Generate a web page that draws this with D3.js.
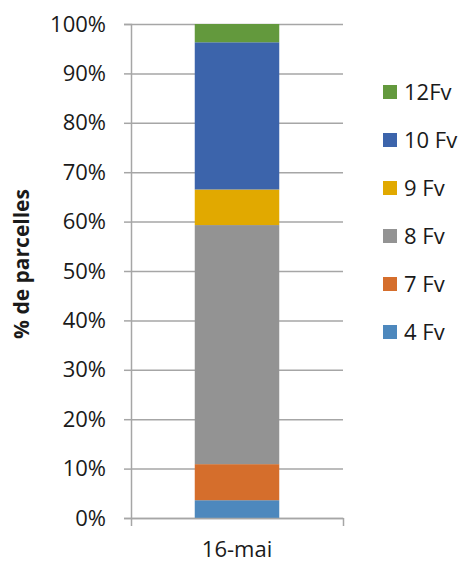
<!DOCTYPE html>
<html>
<head>
<meta charset="utf-8">
<script src="https://cdn.jsdelivr.net/npm/d3@7"></script>
<style>
  body { margin: 0; background: #fff; }
  svg text { font-family: "Open Sans", "Liberation Sans", sans-serif; fill: #1a1a1a; }
</style>
</head>
<body>
<svg id="chart" width="464" height="563"></svg>
<script>
// values (% of parcels per stage, one date)
const categories = ['16-mai'];
const seriesNames = ['4 Fv', '7 Fv', '8 Fv', '9 Fv', '10 Fv', '12Fv'];
const seriesValues = [3.6, 7.3, 48.4, 7.2, 29.8, 3.7];
const seriesColors = ['#4d88bd', '#d56e2c', '#939393', '#e1a900', '#3c64ab', '#63993d'];
const yTicks = [0, 10, 20, 30, 40, 50, 60, 70, 80, 90, 100];

const MARGIN_LEFT = 131;
const MARGIN_TOP = 24;
const PLOT_W = 212;
const PLOT_H = 494;
const GRID_COLOR = '#a6a6a6';
const FONT_PX = 22;

const svg = d3.select('#chart');
const g = svg.append('g').attr('transform', `translate(${MARGIN_LEFT},${MARGIN_TOP})`);

const y = d3.scaleLinear().domain([0, 100]).range([PLOT_H, 0]);
const x = d3.scaleBand().domain(categories).range([0, PLOT_W]).padding(0.43);

// gridlines
g.append('g')
  .call(d3.axisLeft(y).tickValues(yTicks).tickSize(-PLOT_W).tickFormat(''))
  .call(a => a.select('.domain').remove())
  .selectAll('line')
    .attr('stroke', GRID_COLOR)
    .attr('stroke-width', 1.5);

// stacked bar
const stackRows = categories.map(c => {
  const row = { cat: c };
  seriesNames.forEach((s, i) => { row[s] = seriesValues[i]; });
  return row;
});
const stacked = d3.stack().keys(seriesNames)(stackRows);

g.selectAll('g.layer')
  .data(stacked)
  .join('g')
    .attr('class', 'layer')
    .attr('fill', (d, i) => seriesColors[i])
  .selectAll('rect')
  .data(d => d)
  .join('rect')
    .attr('x', d => x(d.data.cat))
    .attr('width', x.bandwidth())
    .attr('y', d => y(d[1]))
    .attr('height', d => y(d[0]) - y(d[1]));

// left axis
const yAxis = g.append('g')
  .call(d3.axisLeft(y).tickValues(yTicks).tickSize(7).tickPadding(18).tickFormat(d => d + '%'));
yAxis.select('.domain').attr('stroke', GRID_COLOR).attr('stroke-width', 1.5);
yAxis.selectAll('line').attr('stroke', GRID_COLOR).attr('stroke-width', 1.5);
yAxis.selectAll('text').style('font-size', FONT_PX + 'px').attr('fill', '#1a1a1a');

// bottom axis: line with ticks on category boundaries
const xEdge = d3.scaleLinear().domain([0, 1]).range([0, PLOT_W]);
const xAxisLine = g.append('g')
  .attr('transform', `translate(0,${PLOT_H})`)
  .call(d3.axisBottom(xEdge).tickValues([0, 1]).tickSize(8).tickSizeOuter(0).tickFormat(''));
xAxisLine.select('.domain').attr('stroke', GRID_COLOR).attr('stroke-width', 1.5);
xAxisLine.selectAll('line').attr('stroke', GRID_COLOR).attr('stroke-width', 1.5);

const xAxis = g.append('g')
  .attr('transform', `translate(0,${PLOT_H})`)
  .call(d3.axisBottom(x).tickSize(0).tickPadding(23));
xAxis.select('.domain').remove();
xAxis.selectAll('text').style('font-size', FONT_PX + 'px').attr('fill', '#1a1a1a');

// y title
svg.append('text')
  .attr('transform', 'translate(29,264) rotate(-90)')
  .attr('text-anchor', 'middle')
  .style('font-size', '21px')
  .style('font-weight', 'bold')
  .text('% de parcelles');

// legend, top entry is last series
const legend = svg.append('g').attr('transform', 'translate(383,0)');
const legendItems = legend.selectAll('g')
  .data(seriesNames.map((s, i) => ({ name: s, color: seriesColors[i] })).reverse())
  .join('g')
    .attr('transform', (d, i) => `translate(0,${92 + i * 48})`);
legendItems.append('rect')
  .attr('x', 0).attr('y', -7)
  .attr('width', 14).attr('height', 14)
  .attr('fill', d => d.color);
legendItems.append('text')
  .attr('x', 21).attr('dy', '0.35em')
  .style('font-size', FONT_PX + 'px')
  .text(d => d.name);
</script>
</body>
</html>
